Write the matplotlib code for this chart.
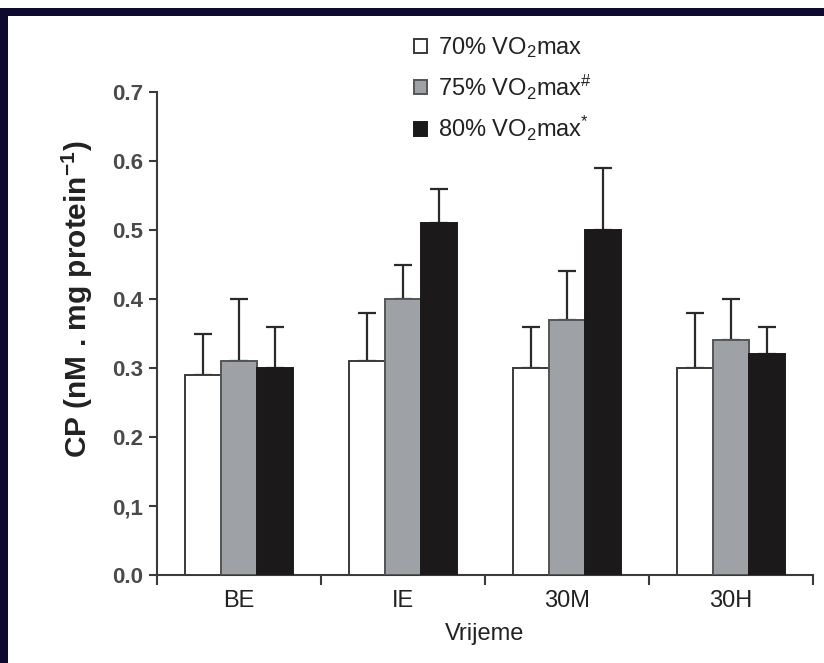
import matplotlib
matplotlib.use("Agg")
import matplotlib.pyplot as plt
import numpy as np
from matplotlib import font_manager
from matplotlib.patches import Rectangle

# ---- data ----
categories = ["BE", "IE", "30M", "30H"]
series_names = [r"70% VO$_2$max", r"75% VO$_2$max$^{\#}$", r"80% VO$_2$max$^{*}$"]
values_70 = [0.29, 0.31, 0.30, 0.30]
values_75 = [0.31, 0.40, 0.37, 0.34]
values_80 = [0.30, 0.51, 0.50, 0.32]
err_70 = [0.06, 0.07, 0.06, 0.08]
err_75 = [0.09, 0.05, 0.07, 0.06]
err_80 = [0.06, 0.05, 0.09, 0.04]
yticks = [0.0, 0.1, 0.2, 0.3, 0.4, 0.5, 0.6, 0.7]
ytick_labels = ["0.0", "0,1", "0.2", "0.3", "0.4", "0.5", "0.6", "0.7"]
xlabel = "Vrijeme"
ylabel = r"CP (nM . mg protein$^{\mathbf{-1}}$)"

# ---- fonts ----
names = {f.name for f in font_manager.fontManager.ttflist}
narrow = "Liberation Sans Narrow" if "Liberation Sans Narrow" in names else "Liberation Sans"
plt.rcParams["mathtext.fontset"] = "custom"
plt.rcParams["mathtext.rm"] = narrow
plt.rcParams["mathtext.it"] = narrow + ":italic"
plt.rcParams["mathtext.bf"] = "Liberation Sans:bold"

fig = plt.figure(figsize=(8.24, 6.63), dpi=100)
fig.patch.set_facecolor("white")
ax = fig.add_axes([157/824, 1-575/663, (813-157)/824, (575-92)/663])

navy = "#0d0a2e"
# frame border
fig.patches.append(Rectangle((0, 1-16/663), 1, 8/663, transform=fig.transFigure,
                             facecolor=navy, edgecolor="none", zorder=10))
fig.patches.append(Rectangle((0, 0), 8/824, 1-8/663, transform=fig.transFigure,
                             facecolor=navy, edgecolor="none", zorder=10))

x = np.arange(len(categories))
w = 0.22
fills = ["white", "#9ea1a6", "#1c191b"]
edges = ["#3a3a3a", "#555555", "#1c191b"]
vals = [values_70, values_75, values_80]
errs = [err_70, err_75, err_80]
axis_col = "#3a3a3a"
handles = []
for i, (v, e) in enumerate(zip(vals, errs)):
    pos = x + (i - 1) * w
    ax.errorbar(pos, v, yerr=[np.zeros(len(e)), e], fmt="none", ecolor="#2a2a2a",
                elinewidth=1.6, capsize=6.5, capthick=1.6, zorder=2)
    b = ax.bar(pos, v, width=w, color=fills[i], edgecolor=edges[i], linewidth=1.4,
               zorder=3, label=series_names[i])
    handles.append(b)

ax.set_xlim(-0.5, 3.5)
ax.set_ylim(0, 0.7)
ax.spines["top"].set_visible(False)
ax.spines["right"].set_visible(False)
for s in ["left", "bottom"]:
    ax.spines[s].set_color(axis_col)
    ax.spines[s].set_linewidth(1.5)

ax.set_yticks(yticks)
ax.set_yticklabels(ytick_labels, fontsize=16, fontweight="bold", color="#4a4a4a",
                   family="Liberation Sans")
ax.tick_params(axis="y", direction="out", length=6, width=1.5, color=axis_col, pad=4)

ax.set_xticks(x)
ax.set_xticklabels(categories, fontsize=17, family=narrow, color="#222222")
ax.tick_params(axis="x", which="major", length=0, pad=11)
ax.set_xticks(np.arange(-0.5, 3.6, 1.0), minor=True)
ax.tick_params(axis="x", which="minor", direction="out", length=7, width=1.5, color=axis_col)

ax.set_xlabel(xlabel, fontsize=17, family=narrow, color="#222222", labelpad=8)
ax.set_ylabel(ylabel, fontsize=21.5, fontweight="bold", family="Liberation Sans",
              color="#222222")
ax.yaxis.set_label_coords(-0.095, 0.57)

leg = ax.legend(handles=handles, loc="upper left", bbox_to_anchor=(405/824, 1-26/663),
                bbox_transform=fig.transFigure, frameon=False,
                prop={"family": narrow, "size": 17}, handlelength=0.55, handleheight=0.55,
                handletextpad=0.45, labelspacing=0.52, borderaxespad=0)
for t in leg.get_texts():
    t.set_color("#222222")

fig.savefig("out.png", dpi=100)
